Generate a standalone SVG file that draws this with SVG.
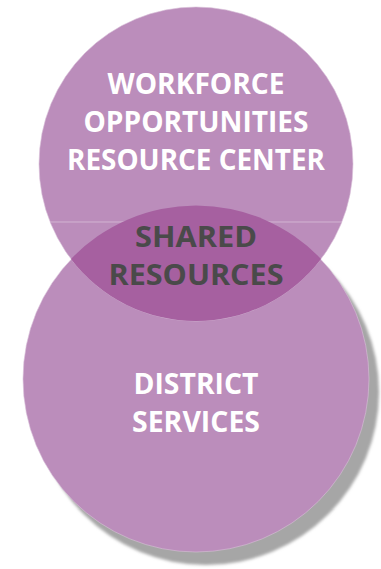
<svg xmlns="http://www.w3.org/2000/svg" width="381" height="569" viewBox="0 0 381 569">
  <style>
    .circle { fill: #bb8dbb; stroke: #d9c0d9; stroke-width: 0.6; }
    .lens { fill: #a660a0; }
    .lbl { font-family: "Open Sans", "Liberation Sans", sans-serif; font-weight: 700; font-size: 28px; text-anchor: middle; }
    .light { fill: #ffffff; }
    .dark { fill: #4a4a4a; }
  </style>
  <defs>
    <filter id="soft" x="-10%" y="-10%" width="120%" height="120%">
      <feGaussianBlur stdDeviation="1.5"/>
    </filter>
  </defs>
  <rect width="381" height="569" fill="#ffffff"/>
  <g id="shadow">
    <circle cx="206" cy="392" r="173" fill="#a6a6a6" filter="url(#soft)"/>
  </g>
  <g id="district-services">
    <circle class="circle" cx="196" cy="379" r="173"/>
  </g>
  <g id="workforce-center">
    <circle class="circle" cx="196" cy="164" r="157"/>
    <line x1="50" y1="222" x2="342" y2="222" stroke="#d2b4d2" stroke-width="1"/>
  </g>
  <g id="shared-resources">
    <path class="lens" d="M71,259 A173,173 0 0 1 321,259 A157,157 0 0 1 71,259 Z"/>
  </g>
  <g id="labels">
    <text class="lbl light" x="196" y="94" textLength="177" lengthAdjust="spacingAndGlyphs">WORKFORCE</text>
    <text class="lbl light" x="196" y="132" textLength="225" lengthAdjust="spacingAndGlyphs">OPPORTUNITIES</text>
    <text class="lbl light" x="196" y="170" textLength="258" lengthAdjust="spacingAndGlyphs">RESOURCE CENTER</text>
    <text class="lbl dark" x="196" y="247" textLength="122" lengthAdjust="spacingAndGlyphs">SHARED</text>
    <text class="lbl dark" x="196" y="285" textLength="175" lengthAdjust="spacingAndGlyphs">RESOURCES</text>
    <text class="lbl light" x="196" y="394" textLength="125" lengthAdjust="spacingAndGlyphs">DISTRICT</text>
    <text class="lbl light" x="196" y="432" textLength="128" lengthAdjust="spacingAndGlyphs">SERVICES</text>
  </g>
</svg>
